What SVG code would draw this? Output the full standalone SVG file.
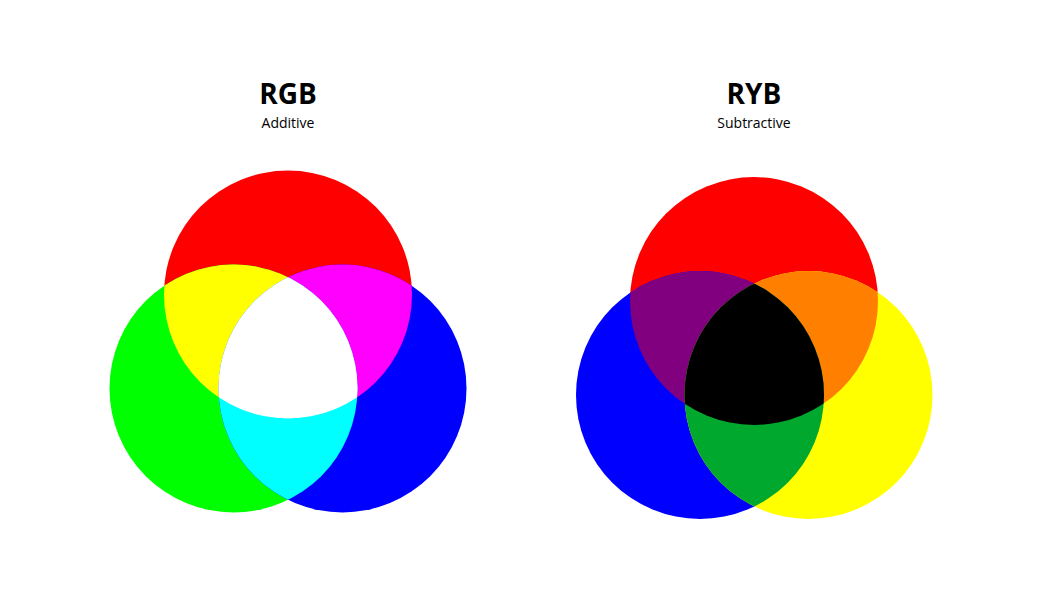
<svg xmlns="http://www.w3.org/2000/svg" width="1042" height="610" viewBox="0 0 1042 610">
<style>
.title{font-family:"Open Sans","Noto Sans",sans-serif;font-weight:bold;font-size:28px;fill:#000;text-anchor:middle}
.sub{font-family:"Open Sans","Noto Sans",sans-serif;font-size:14px;fill:#000;text-anchor:middle}
</style>
<defs>
<circle id="cR" cx="288" cy="294.5" r="124"/>
<circle id="cG" cx="233.5" cy="388.5" r="124"/>
<circle id="cB" cx="342.5" cy="388.5" r="124"/>
<circle id="dR" cx="754" cy="301" r="124"/>
<circle id="dB" cx="700" cy="395" r="124"/>
<circle id="dY" cx="808.5" cy="395" r="124"/>
<clipPath id="kR"><use href="#cR"/></clipPath>
<clipPath id="kG"><use href="#cG"/></clipPath>
<clipPath id="kB"><use href="#cB"/></clipPath>
<clipPath id="jR"><use href="#dR"/></clipPath>
<clipPath id="jB"><use href="#dB"/></clipPath>
<clipPath id="jY"><use href="#dY"/></clipPath>
</defs>
<rect width="1042" height="610" fill="#fff"/>
<g id="rgb">
<text class="title" x="288" y="104">RGB</text>
<text class="sub" x="288" y="128">Additive</text>
<use href="#cR" fill="#ff0000"/>
<use href="#cG" fill="#00ff00"/>
<use href="#cB" fill="#0000ff"/>
<use href="#cG" fill="#ffff00" clip-path="url(#kR)"/>
<use href="#cB" fill="#ff00ff" clip-path="url(#kR)"/>
<use href="#cB" fill="#00ffff" clip-path="url(#kG)"/>
<g clip-path="url(#kR)"><use href="#cB" fill="#ffffff" clip-path="url(#kG)"/></g>
</g>
<g id="ryb">
<text class="title" x="754" y="104">RYB</text>
<text class="sub" x="754" y="128">Subtractive</text>
<use href="#dR" fill="#ff0000"/>
<use href="#dB" fill="#0000ff"/>
<use href="#dY" fill="#ffff00"/>
<use href="#dB" fill="#800080" clip-path="url(#jR)"/>
<use href="#dY" fill="#ff8000" clip-path="url(#jR)"/>
<use href="#dY" fill="#00a82d" clip-path="url(#jB)"/>
<g clip-path="url(#jR)"><use href="#dY" fill="#000000" clip-path="url(#jB)"/></g>
</g>
</svg>
